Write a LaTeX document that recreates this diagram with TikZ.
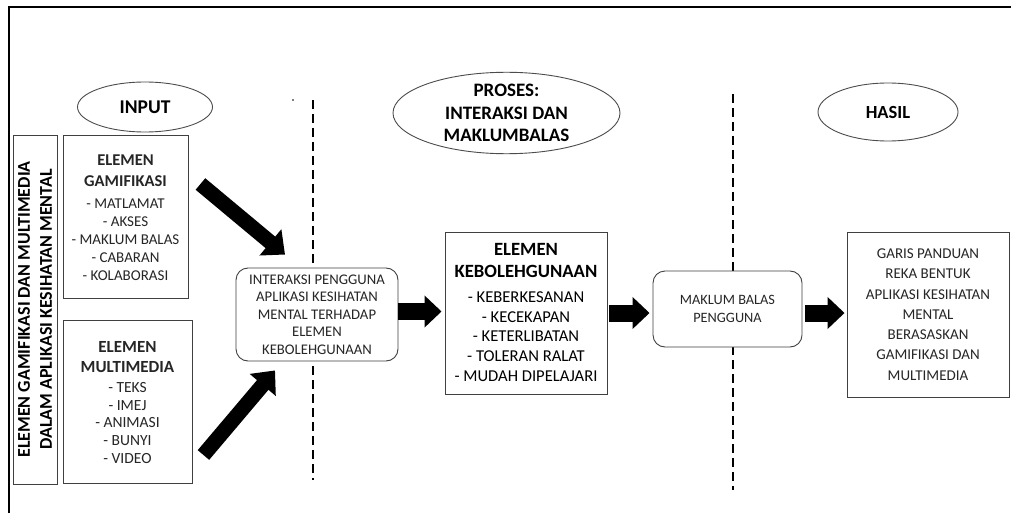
\documentclass[tikz,border=0pt]{standalone}
\usepackage{fontspec}
\setmainfont{Carlito}
\usetikzlibrary{shapes.geometric,arrows.meta,calc}
\newcommand{\fsz}[2]{\fontsize{#1}{#2}\selectfont}
\tikzset{
  box/.style={draw=black!75, line width=0.9pt, align=center, inner sep=0pt, text=black!85},
  rbox/.style={box, rounded corners=12pt},
  oval/.style={ellipse, draw=black!70, line width=0.9pt, align=center, inner sep=0pt, text=black},
  txt/.style={align=center, inner sep=0pt, text=black!85},
  divider/.style={line width=1.3pt, dash pattern=on 9pt off 5pt},
  fatarrow/.style={line width=17pt, -{Triangle[length=17pt,width=31pt]}},
  diagarrow/.style={line width=15pt, -{Triangle[length=19pt,width=33pt]}},
}
\begin{document}
\begin{tikzpicture}[x=1pt,y=-1pt]
\useasboundingbox (0,0) rectangle (1011,513);
\fill[white] (0,0) rectangle (1011,513);
% frame
\draw[line width=2pt] (9,513) -- (9,7) -- (1011,7);

% left vertical box
\node[box, minimum width=44pt, minimum height=349pt] (side) at (35,309.5) {};
\node[txt, rotate=90, font=\bfseries\fsz{18}{22}, text=black] (sidetxt) at (side.center)
  {ELEMEN GAMIFIKASI DAN MULTIMEDIA\\DALAM APLIKASI KESIHATAN MENTAL};

% INPUT ellipse
\node[oval, minimum width=135pt, minimum height=50pt, font=\bfseries\fsz{19.5}{21}] (input) at (145,107) {INPUT};

% Gamifikasi box
\node[box, minimum width=125pt, minimum height=163pt] (gam) at (125.5,216.5) {};
\node[txt, font=\bfseries\fsz{16.5}{21}] (gamhd) at (125.5,170.5) {ELEMEN\\GAMIFIKASI};
\node[txt, font=\fsz{15}{18}] (gamls) at (125.5,239.5)
  {- MATLAMAT\\- AKSES\\- MAKLUM BALAS\\- CABARAN\\- KOLABORASI};

% Multimedia box
\node[box, minimum width=129pt, minimum height=163pt] (mul) at (127.5,401.5) {};
\node[txt, font=\bfseries\fsz{17}{20}] (mulhd) at (127.5,357.5) {ELEMEN\\MULTIMEDIA};
\node[txt, font=\fsz{15.5}{17.8}] (mulls) at (127.5,423)
  {- TEKS\\- IMEJ\\- ANIMASI\\- BUNYI\\- VIDEO};

% stray dot
\fill (293,100) circle (0.9pt);

% dividers
\coordinate (d1t) at (313,100);
\coordinate (d1b) at (313,480);
\draw[divider] (d1t) -- (d1b);
\coordinate (d2t) at (733,94);
\coordinate (d2b) at (733,490);
\draw[divider] (d2t) -- (d2b);

% Interaksi rounded box
\node[rbox, fill=white, minimum width=162pt, minimum height=93pt, font=\fsz{14.7}{17.5}] (int) at (317,314.5)
  {INTERAKSI PENGGUNA\\APLIKASI KESIHATAN\\MENTAL TERHADAP\\ELEMEN\\KEBOLEHGUNAAN};

% PROSES ellipse
\node[oval, minimum width=227pt, minimum height=78pt, font=\bfseries\fsz{19}{22.5}] (proses) at (506.5,113)
  {PROSES:\\INTERAKSI DAN\\MAKLUMBALAS};

% Kebolehgunaan box
\node[box, minimum width=162pt, minimum height=162pt] (keb) at (526,313) {};
\node[txt, font=\bfseries\fsz{18.7}{22}, text=black] (kebhd) at (526,261) {ELEMEN\\KEBOLEHGUNAAN};
\node[txt, font=\fsz{16.6}{19.6}, text=black] (kebls) at (526,336.5)
  {- KEBERKESANAN\\- KECEKAPAN\\- KETERLIBATAN\\- TOLERAN RALAT\\- MUDAH DIPELAJARI};

% Maklum balas rounded box
\node[rbox, fill=white, minimum width=149pt, minimum height=76pt, font=\fsz{14.3}{18}] (mak) at (727.5,309)
  {MAKLUM BALAS\\PENGGUNA};

% HASIL ellipse
\node[oval, minimum width=140pt, minimum height=58pt, font=\bfseries\fsz{18.5}{21}] (hasil) at (888,112) {HASIL};

% Hasil box
\node[box, minimum width=162pt, minimum height=165pt, font=\fsz{15}{20.3}] (has) at (928,314.5)
  {GARIS PANDUAN\\REKA BENTUK\\APLIKASI KESIHATAN\\MENTAL\\BERASASKAN\\GAMIFIKASI DAN\\MULTIMEDIA};

% arrows
\draw[diagarrow] ([shift={(12,-32.5)}]gam.east) -- ([shift={(-32,-13)}]int.north);
\draw[diagarrow] ([shift={(11,53.5)}]mul.east) -- ([shift={(-42,9)}]int.south);
\draw[fatarrow] ([shift={(0,-3)}]int.east) -- ([shift={(-3,-1.5)}]keb.west);
\draw[fatarrow] ([shift={(2,0)}]keb.east) -- ([shift={(-3,4)}]mak.west);
\draw[fatarrow] ([shift={(3,4)}]mak.east) -- ([shift={(-2,-1.5)}]has.west);
\end{tikzpicture}
\end{document}
